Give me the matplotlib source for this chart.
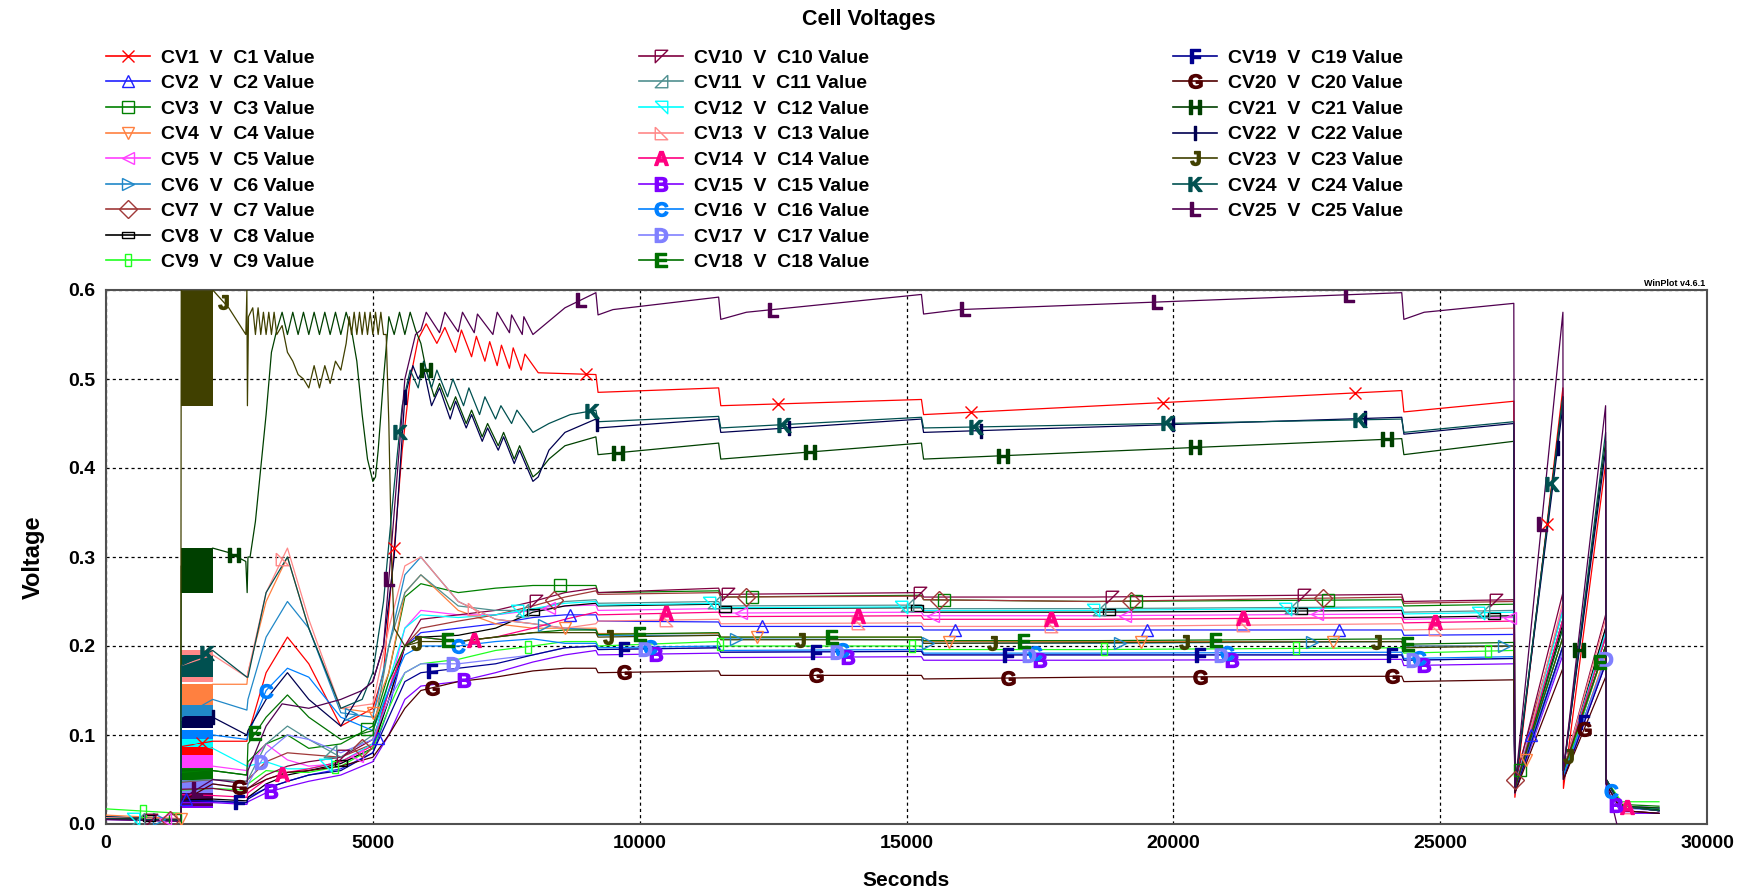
import numpy as np
import matplotlib
matplotlib.use("Agg")
import matplotlib.pyplot as plt
from matplotlib.lines import Line2D

plt.rcParams['font.family'] = ['Liberation Sans', 'DejaVu Sans']
plt.rcParams['font.weight'] = 'bold'
plt.rcParams['mathtext.fontset'] = 'custom'
plt.rcParams['mathtext.bf'] = 'Liberation Sans:bold'
plt.rcParams['mathtext.rm'] = 'Liberation Sans:bold'
plt.rcParams['mathtext.default'] = 'bf'

# ---------------- data ----------------
# shared time grid for the "bulk" cells
t_grid = [0, 1400, 1410, 2000, 2640, 2660, 3000, 3400, 3800, 4400, 5000, 5300, 5600, 5900,
          6600, 7300, 8000, 8600, 9180, 9220, 11480, 11520, 15280, 15320, 18500, 24280,
          24320, 26380, 26400, 27300, 27310, 28100, 28110, 28400, 29100]

cv2 = [0.008, 0.005, 0.028, 0.025, 0.024, 0.03, 0.04, 0.048, 0.055, 0.062, 0.08, 0.13, 0.2, 0.215, 0.22, 0.225, 0.232, 0.235, 0.235, 0.228, 0.227, 0.222, 0.222, 0.218, 0.218, 0.218, 0.212, 0.213, 0.04, 0.22, 0.055, 0.2, 0.05, 0.02, 0.018]
cv3 = [0.006, 0.004, 0.058, 0.06, 0.055, 0.07, 0.09, 0.1, 0.085, 0.09, 0.11, 0.17, 0.255, 0.27, 0.26, 0.265, 0.268, 0.268, 0.268, 0.26, 0.262, 0.255, 0.257, 0.252, 0.25, 0.252, 0.245, 0.247, 0.04, 0.23, 0.06, 0.21, 0.05, 0.022, 0.02]
cv4 = [0.01, 0.006, 0.145, 0.157, 0.157, 0.17, 0.25, 0.3, 0.22, 0.13, 0.125, 0.17, 0.26, 0.28, 0.24, 0.225, 0.22, 0.22, 0.22, 0.214, 0.214, 0.21, 0.21, 0.205, 0.205, 0.205, 0.2, 0.2, 0.035, 0.2, 0.05, 0.19, 0.05, 0.02, 0.016]
cv5 = [0.007, 0.005, 0.07, 0.065, 0.06, 0.065, 0.09, 0.072, 0.065, 0.068, 0.085, 0.15, 0.22, 0.24, 0.235, 0.235, 0.24, 0.245, 0.246, 0.24, 0.242, 0.237, 0.238, 0.234, 0.234, 0.236, 0.23, 0.232, 0.04, 0.245, 0.06, 0.215, 0.05, 0.02, 0.018]
cv6 = [0.008, 0.005, 0.12, 0.14, 0.128, 0.14, 0.21, 0.25, 0.22, 0.125, 0.12, 0.2, 0.28, 0.3, 0.25, 0.23, 0.225, 0.22, 0.218, 0.212, 0.212, 0.208, 0.207, 0.203, 0.203, 0.205, 0.2, 0.2, 0.04, 0.21, 0.055, 0.2, 0.05, 0.02, 0.017]
cv7 = [0.006, 0.004, 0.047, 0.05, 0.048, 0.05, 0.07, 0.08, 0.078, 0.075, 0.09, 0.14, 0.2, 0.22, 0.228, 0.235, 0.245, 0.255, 0.262, 0.258, 0.26, 0.255, 0.256, 0.252, 0.25, 0.255, 0.248, 0.25, 0.05, 0.24, 0.06, 0.22, 0.05, 0.02, 0.015]
cv8 = [0.008, 0.005, 0.027, 0.028, 0.026, 0.03, 0.045, 0.055, 0.06, 0.068, 0.085, 0.14, 0.2, 0.21, 0.212, 0.22, 0.238, 0.245, 0.248, 0.245, 0.247, 0.242, 0.243, 0.238, 0.238, 0.24, 0.232, 0.234, 0.04, 0.225, 0.06, 0.22, 0.05, 0.02, 0.015]
cv9 = [0.017, 0.012, 0.038, 0.04, 0.038, 0.045, 0.06, 0.058, 0.058, 0.065, 0.085, 0.13, 0.17, 0.18, 0.185, 0.195, 0.2, 0.205, 0.205, 0.2, 0.205, 0.2, 0.2, 0.196, 0.196, 0.198, 0.192, 0.195, 0.04, 0.21, 0.055, 0.2, 0.05, 0.025, 0.025]
cv10 = [0.006, 0.004, 0.039, 0.04, 0.035, 0.04, 0.055, 0.065, 0.07, 0.075, 0.095, 0.15, 0.2, 0.23, 0.235, 0.24, 0.25, 0.26, 0.265, 0.26, 0.265, 0.258, 0.26, 0.255, 0.255, 0.258, 0.25, 0.252, 0.045, 0.26, 0.06, 0.235, 0.05, 0.02, 0.015]
cv11 = [0.007, 0.005, 0.048, 0.05, 0.048, 0.05, 0.09, 0.11, 0.095, 0.075, 0.1, 0.2, 0.26, 0.28, 0.245, 0.24, 0.24, 0.25, 0.252, 0.248, 0.25, 0.245, 0.246, 0.242, 0.242, 0.244, 0.238, 0.24, 0.04, 0.23, 0.06, 0.21, 0.05, 0.02, 0.018]
cv12 = [0.006, 0.004, 0.094, 0.085, 0.065, 0.065, 0.07, 0.062, 0.062, 0.07, 0.09, 0.16, 0.22, 0.235, 0.232, 0.235, 0.242, 0.248, 0.25, 0.246, 0.248, 0.243, 0.244, 0.24, 0.24, 0.243, 0.236, 0.238, 0.04, 0.24, 0.06, 0.215, 0.05, 0.02, 0.016]
cv13 = [0.007, 0.005, 0.178, 0.19, 0.165, 0.17, 0.26, 0.31, 0.23, 0.13, 0.135, 0.22, 0.29, 0.3, 0.25, 0.23, 0.225, 0.22, 0.225, 0.228, 0.23, 0.225, 0.226, 0.222, 0.222, 0.225, 0.218, 0.22, 0.035, 0.25, 0.06, 0.23, 0.05, 0.02, 0.015]
cv14 = [0.006, 0.004, 0.033, 0.032, 0.03, 0.035, 0.05, 0.058, 0.062, 0.07, 0.088, 0.15, 0.2, 0.21, 0.205, 0.21, 0.22, 0.23, 0.238, 0.235, 0.238, 0.233, 0.234, 0.23, 0.23, 0.232, 0.226, 0.228, 0.04, 0.23, 0.06, 0.21, 0.05, 0.02, 0.015]
cv15 = [0.005, 0.003, 0.024, 0.024, 0.022, 0.025, 0.035, 0.042, 0.048, 0.055, 0.07, 0.1, 0.14, 0.155, 0.16, 0.17, 0.182, 0.19, 0.195, 0.19, 0.192, 0.187, 0.188, 0.184, 0.184, 0.185, 0.178, 0.18, 0.035, 0.19, 0.05, 0.18, 0.04, 0.012, 0.012]
cv16 = [0.006, 0.004, 0.1, 0.1, 0.095, 0.1, 0.15, 0.175, 0.165, 0.12, 0.105, 0.15, 0.19, 0.2, 0.2, 0.205, 0.208, 0.203, 0.203, 0.198, 0.2, 0.195, 0.196, 0.192, 0.192, 0.193, 0.186, 0.188, 0.04, 0.2, 0.055, 0.185, 0.045, 0.02, 0.015]
cv17 = [0.006, 0.004, 0.043, 0.045, 0.04, 0.045, 0.08, 0.1, 0.095, 0.08, 0.095, 0.14, 0.17, 0.18, 0.18, 0.185, 0.19, 0.198, 0.2, 0.196, 0.198, 0.193, 0.194, 0.19, 0.19, 0.19, 0.184, 0.186, 0.035, 0.195, 0.05, 0.185, 0.045, 0.018, 0.015]
cv18 = [0.006, 0.004, 0.056, 0.06, 0.055, 0.09, 0.12, 0.145, 0.12, 0.095, 0.105, 0.16, 0.2, 0.21, 0.205, 0.21, 0.215, 0.218, 0.218, 0.213, 0.215, 0.21, 0.21, 0.206, 0.206, 0.208, 0.202, 0.204, 0.04, 0.22, 0.06, 0.2, 0.05, 0.02, 0.016]
cv19 = [0.006, 0.004, 0.026, 0.026, 0.024, 0.028, 0.04, 0.048, 0.055, 0.06, 0.08, 0.12, 0.16, 0.17, 0.175, 0.18, 0.19, 0.198, 0.2, 0.196, 0.198, 0.193, 0.194, 0.19, 0.19, 0.19, 0.184, 0.186, 0.035, 0.2, 0.05, 0.18, 0.045, 0.015, 0.012]
cv20 = [0.006, 0.004, 0.025, 0.045, 0.04, 0.04, 0.05, 0.058, 0.06, 0.065, 0.075, 0.1, 0.13, 0.15, 0.16, 0.165, 0.172, 0.175, 0.175, 0.17, 0.172, 0.167, 0.167, 0.163, 0.165, 0.166, 0.16, 0.162, 0.035, 0.175, 0.05, 0.165, 0.045, 0.015, 0.012]

# cells with their own time points (big swings / sawtooth)
cv1_t = [0, 1400, 1410, 2000, 2640, 2660, 3000, 3400, 3800, 4400, 5000, 5200, 5400, 5550, 5700, 5850, 6000, 6200, 6350, 6550, 6660, 6850, 6940, 7100, 7190, 7330, 7410, 7560, 7630, 7780, 7850, 8100, 9180, 9220, 11480, 11520, 15280, 15320, 24280, 24320, 26380, 26400, 27300, 27310, 28100, 28110, 28400, 29100]
cv1_v = [0.006, 0.004, 0.087, 0.093, 0.093, 0.1, 0.17, 0.21, 0.18, 0.11, 0.13, 0.17, 0.31, 0.42, 0.5, 0.545, 0.562, 0.54, 0.558, 0.53, 0.555, 0.525, 0.548, 0.52, 0.542, 0.515, 0.538, 0.512, 0.535, 0.51, 0.528, 0.507, 0.505, 0.485, 0.49, 0.47, 0.477, 0.46, 0.487, 0.463, 0.475, 0.03, 0.49, 0.04, 0.405, 0.05, 0.015, 0.012]

cv21_t = [0, 1400, 1410, 2000, 2300, 2620, 2645, 2660, 2700, 2800, 2900, 3000, 3100, 3200, 3300, 3400, 3500, 3600, 3700, 3800, 3900, 4000, 4100, 4200, 4300, 4400, 4500, 4600, 4700, 4800, 4900, 5000, 5050, 5100, 5200, 5300, 5400, 5500, 5600, 5700, 5800, 5900, 6000, 6150, 6250, 6450, 6550, 6750, 6850, 7050, 7150, 7350, 7450, 7650, 7750, 8000, 8100, 8300, 8600, 9180, 9220, 11480, 11520, 15280, 15320, 24280, 24320, 26380, 26400, 27300, 27310, 28100, 28110, 28400, 29100]
cv21_v = [0.006, 0.004, 0.29, 0.31, 0.305, 0.295, 0.26, 0.3, 0.3, 0.34, 0.4, 0.46, 0.53, 0.555, 0.575, 0.55, 0.575, 0.55, 0.575, 0.55, 0.575, 0.55, 0.575, 0.55, 0.575, 0.55, 0.575, 0.555, 0.52, 0.46, 0.41, 0.385, 0.39, 0.42, 0.5, 0.57, 0.55, 0.575, 0.55, 0.575, 0.555, 0.54, 0.51, 0.48, 0.495, 0.465, 0.48, 0.45, 0.465, 0.435, 0.45, 0.425, 0.44, 0.41, 0.425, 0.39, 0.395, 0.41, 0.425, 0.435, 0.415, 0.428, 0.41, 0.428, 0.41, 0.433, 0.415, 0.43, 0.04, 0.48, 0.06, 0.43, 0.05, 0.02, 0.018]

cv22_t = [0, 1400, 1410, 2000, 2640, 2660, 3000, 3400, 3800, 4400, 4800, 5000, 5200, 5400, 5600, 5750, 5850, 5950, 6100, 6250, 6450, 6550, 6750, 6850, 7050, 7150, 7350, 7450, 7650, 7750, 8000, 8100, 8300, 8600, 9180, 9220, 11480, 11520, 15280, 15320, 24280, 24320, 26380, 26400, 27300, 27310, 28100, 28110, 28400, 29100]
cv22_v = [0.006, 0.004, 0.115, 0.12, 0.1, 0.105, 0.14, 0.17, 0.14, 0.11, 0.15, 0.16, 0.2, 0.3, 0.48, 0.515, 0.5, 0.512, 0.47, 0.49, 0.455, 0.475, 0.445, 0.46, 0.43, 0.445, 0.42, 0.435, 0.405, 0.42, 0.385, 0.39, 0.42, 0.44, 0.455, 0.445, 0.455, 0.44, 0.455, 0.44, 0.457, 0.438, 0.45, 0.04, 0.47, 0.06, 0.42, 0.05, 0.02, 0.015]

cv23_t = [0, 1400, 1410, 2000, 2300, 2620, 2640, 2650, 2670, 2750, 2800, 2850, 2900, 2950, 3000, 3050, 3100, 3150, 3200, 3300, 3400, 3500, 3600, 3700, 3800, 3900, 4000, 4100, 4200, 4300, 4400, 4500, 4560, 4600, 4650, 4700, 4750, 4800, 4850, 4900, 4950, 5000, 5050, 5100, 5150, 5200, 5250, 5300, 5350, 5400, 5600, 5900, 6600, 7300, 8000, 8600, 9180, 9220, 11480, 11520, 15280, 15320, 24280, 24320, 26380, 26400, 27300, 27310, 28100, 28110, 28400, 29100]
cv23_v = [0.006, 0.004, 0.6, 0.6, 0.58, 0.55, 0.6, 0.47, 0.57, 0.58, 0.55, 0.58, 0.55, 0.575, 0.55, 0.575, 0.55, 0.575, 0.55, 0.56, 0.53, 0.52, 0.505, 0.5, 0.49, 0.515, 0.49, 0.515, 0.495, 0.52, 0.51, 0.54, 0.57, 0.55, 0.575, 0.55, 0.575, 0.55, 0.575, 0.55, 0.575, 0.55, 0.575, 0.55, 0.575, 0.55, 0.55, 0.45, 0.3, 0.22, 0.2, 0.205, 0.205, 0.21, 0.215, 0.215, 0.215, 0.21, 0.212, 0.207, 0.207, 0.203, 0.205, 0.198, 0.2, 0.04, 0.21, 0.06, 0.2, 0.05, 0.02, 0.015]

cv24_t = [0, 1400, 1410, 2000, 2640, 2660, 3000, 3400, 3800, 4400, 4800, 5000, 5200, 5400, 5550, 5700, 5850, 5950, 6100, 6200, 6400, 6500, 6700, 6800, 7000, 7100, 7300, 7400, 7600, 7700, 8000, 8300, 8700, 9180, 9220, 11480, 11520, 15280, 15320, 24280, 24320, 26380, 26400, 27300, 27310, 28100, 28110, 28400, 29100]
cv24_v = [0.006, 0.004, 0.178, 0.195, 0.165, 0.165, 0.26, 0.3, 0.22, 0.13, 0.14, 0.17, 0.25, 0.38, 0.47, 0.51, 0.49, 0.52, 0.49, 0.51, 0.48, 0.5, 0.47, 0.49, 0.46, 0.48, 0.455, 0.47, 0.45, 0.465, 0.44, 0.45, 0.46, 0.465, 0.452, 0.458, 0.445, 0.457, 0.445, 0.455, 0.44, 0.452, 0.04, 0.48, 0.06, 0.44, 0.05, 0.02, 0.015]

cv25_t = [0, 1400, 1410, 2000, 2640, 2660, 3000, 3300, 3800, 4400, 4800, 5000, 5200, 5400, 5600, 5800, 5900, 6000, 6250, 6350, 6600, 6680, 6900, 6960, 7250, 7330, 7560, 7600, 7800, 7830, 8000, 8300, 8600, 9180, 9220, 9500, 11480, 11520, 12000, 15280, 15320, 16000, 24280, 24320, 24700, 26380, 26400, 27300, 27310, 28100, 28110, 28350]
cv25_v = [0.005, 0.003, 0.028, 0.05, 0.045, 0.06, 0.11, 0.135, 0.13, 0.14, 0.15, 0.16, 0.2, 0.35, 0.5, 0.55, 0.555, 0.575, 0.552, 0.575, 0.553, 0.575, 0.552, 0.573, 0.55, 0.575, 0.552, 0.572, 0.55, 0.57, 0.55, 0.565, 0.58, 0.597, 0.572, 0.578, 0.592, 0.567, 0.575, 0.595, 0.573, 0.578, 0.597, 0.567, 0.575, 0.585, 0.04, 0.575, 0.06, 0.47, 0.05, -0.01]

# pulsed charging block 1400-2000 s: low / high edge of each cell's band
band_lo = [0.076, 0.02, 0.05, 0.128, 0.063, 0.108, 0.039, 0.02, 0.03, 0.032, 0.04, 0.087, 0.16,
           0.027, 0.018, 0.095, 0.035, 0.05, 0.02, 0.02, 0.26, 0.108, 0.47, 0.165, 0.02]
band_hi = [0.097, 0.035, 0.065, 0.157, 0.078, 0.134, 0.054, 0.033, 0.045, 0.046, 0.055, 0.1, 0.196,
           0.039, 0.03, 0.106, 0.05, 0.062, 0.032, 0.03, 0.31, 0.121, 0.62, 0.19, 0.035]

# first marker time for each cell (markers then repeat every 3600 s)
mark_first = [1800, 1500, 1300, 1400, 1100, 1000, 1200, 800, 700, 850, 600, 500, 3300,
              3300, 3100, 3000, 2900, 2800, 2500, 2500, 2400, 2000, 2200, 1900, 1700]

labels = ['CV%d  V  C%d Value' % (i, i) for i in range(1, 26)]

colors = ['#FF0000', '#2020FF', '#008000', '#FF8040', '#FF40FF', '#2088C8', '#A03838',
          '#000000', '#20FF20', '#800040', '#509090', '#00FFFF', '#FF8888', '#FF0080',
          '#8000FF', '#0080FF', '#8080FF', '#007000', '#000090', '#500000', '#004000',
          '#000050', '#404000', '#005050', '#500050']

tri_tl = [(-1, 1), (1, 1), (-1, -1), (-1, 1)]
tri_br = [(1, 1), (1, -1), (-1, -1), (1, 1)]
tri_tr = [(-1, 1), (1, 1), (1, -1), (-1, 1)]
tri_bl = [(-1, 1), (-1, -1), (1, -1), (-1, 1)]
rect_wide = [(-1.7, -0.9), (1.7, -0.9), (1.7, 0.9), (-1.7, 0.9), (-1.7, -0.9)]
rect_tall = [(-0.45, -1), (0.45, -1), (0.45, 1), (-0.45, 1), (-0.45, -1)]
markers = ['x', '^', 's', 'v', '<', '>', 'D', rect_wide, rect_tall, tri_tl, tri_br, tri_tr, tri_bl,
           '$A$', '$B$', '$C$', '$D$', '$E$', '$F$', '$G$', '$H$', '$I$', '$J$', '$K$', '$L$']

bulk = [cv2, cv3, cv4, cv5, cv6, cv7, cv8, cv9, cv10, cv11, cv12, cv13, cv14, cv15, cv16,
        cv17, cv18, cv19, cv20]
series_t = [cv1_t] + [t_grid] * 19 + [cv21_t, cv22_t, cv23_t, cv24_t, cv25_t]
series_v = [cv1_v] + bulk + [cv21_v, cv22_v, cv23_v, cv24_v, cv25_v]

# ---------------- figure ----------------
fig = plt.figure(figsize=(17.37, 8.91), dpi=100)
ax = fig.add_axes([106 / 1737, 67 / 891, 1601 / 1737, 534 / 891])

handles = []
for i in range(25):
    t = np.array(series_t[i], dtype=float)
    v = np.array(series_v[i], dtype=float)
    c = colors[i]
    letter = isinstance(markers[i], str) and markers[i].startswith('$')
    ms = 10 if letter else 9
    mfc = c if letter else 'none'
    ax.fill_between([1400, 2000], [band_lo[i]] * 2, [band_hi[i]] * 2, color=c, lw=0, zorder=2)
    ax.plot(t, v, color=c, lw=0.9, zorder=3)
    mt = np.arange(mark_first[i], t[-1], 3600)
    ax.plot(mt, np.interp(mt, t, v), ls='none', marker=markers[i], ms=ms, mfc=mfc,
            mec=c, mew=1.0, zorder=4)
    handles.append(Line2D([], [], color=c, lw=1.2, marker=markers[i], ms=ms, mfc=mfc,
                          mec=c, mew=1.0))

ax.set_xlim(0, 30000)
ax.set_ylim(0, 0.6)
ax.set_xticks(np.arange(0, 30001, 5000))
ax.set_yticks(np.arange(0, 0.61, 0.1))
ax.set_yticklabels(['0.0', '0.1', '0.2', '0.3', '0.4', '0.5', '0.6'])
ax.tick_params(labelsize=14, length=0, pad=8)
for lab in ax.get_xticklabels() + ax.get_yticklabels():
    lab.set_fontweight('bold')
ax.grid(True, color='black', ls=(0, (2.5, 2.5)), lw=0.9, zorder=1)
ax.set_axisbelow(True)
for s in ax.spines.values():
    s.set_color('#505050')
    s.set_linewidth(1.5)

fig.text(0.5, 1 - 19 / 891, 'Cell Voltages', ha='center', va='center', fontsize=15.5, fontweight='bold')
fig.text(33 / 1737, 1 - 557 / 891, 'Voltage', rotation=90, ha='center', va='center',
         fontsize=17, fontweight='bold')
fig.text(906 / 1737, 1 - 881 / 891, 'Seconds', ha='center', va='center', fontsize=15, fontweight='bold')
fig.text(1705 / 1737, 1 - 283 / 891, 'WinPlot v4.6.1', ha='right', va='center', fontsize=6.5,
         fontweight='bold')

cols = [(0, 9, 106), (9, 18, 639), (18, 25, 1173)]
for a, b, x0 in cols:
    leg = fig.legend(handles[a:b], labels[a:b], loc='upper left',
                     bbox_to_anchor=(x0 / 1737, 1 - 49 / 891), frameon=False,
                     borderpad=0, borderaxespad=0, handlelength=2.25, handletextpad=0.6,
                     labelspacing=0.41, prop={'size': 14, 'weight': 'bold'})

fig.savefig('out.png', dpi=100)
